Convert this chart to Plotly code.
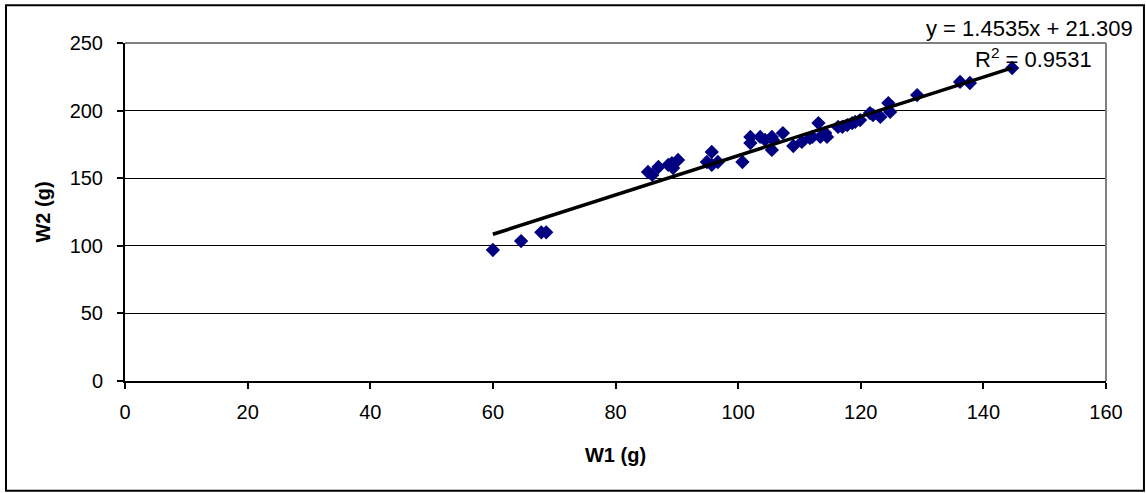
import plotly.graph_objects as go

w1 = [60.0, 64.6, 67.9, 68.7, 85.3, 86.0, 87.0, 88.6, 89.2, 90.2, 89.4, 94.9, 95.7, 95.7,
      96.7, 100.7, 102.0, 102.0, 103.6, 104.4, 105.5, 105.7, 105.5, 107.3, 109.0, 110.4,
      111.7, 112.1, 113.1, 113.4, 114.2, 114.5, 116.3, 117.0, 117.8, 118.6, 119.1, 119.9,
      121.5, 122.0, 123.2, 124.5, 124.8, 129.2, 136.2, 137.8, 144.7]
w2 = [96.9, 103.5, 110.0, 110.0, 154.6, 152.4, 158.3, 159.8, 161.2, 163.5, 157.5, 162.0,
      169.4, 159.8, 162.0, 162.0, 180.5, 176.0, 180.5, 178.3, 180.5, 178.3, 170.9, 183.4,
      173.8, 176.8, 179.7, 180.5, 190.8, 180.5, 183.4, 180.5, 187.9, 187.9, 189.3, 190.8,
      191.6, 193.0, 198.2, 196.7, 195.3, 205.6, 199.0, 211.5, 221.2, 220.4, 231.5]

slope = 1.4535
intercept = 21.309
r2 = 0.9531

x_ticks = [0, 20, 40, 60, 80, 100, 120, 140, 160]
y_ticks = [0, 50, 100, 150, 200, 250]

xmin, xmax = min(w1), max(w1)
fit_x = [xmin, xmax]
fit_y = [slope * v + intercept for v in fit_x]

font = "Liberation Sans, Arial, sans-serif"

fig = go.Figure()
fig.add_trace(go.Scatter(
    x=w1, y=w2, mode="markers",
    marker=dict(symbol="diamond", size=11, color="#000080", line=dict(width=0)),
    showlegend=False, cliponaxis=False))
fig.add_trace(go.Scatter(
    x=fit_x, y=fit_y, mode="lines",
    line=dict(color="black", width=3.5), showlegend=False))

fig.update_layout(
    width=1146, height=493,
    margin=dict(l=125, r=40, t=43, b=112),
    paper_bgcolor="white", plot_bgcolor="white",
    font=dict(family=font, size=20, color="black"),
    xaxis=dict(range=[0, 160], tickvals=x_ticks, showgrid=False, zeroline=False,
               showline=True, linecolor="black", linewidth=2,
               ticks="outside", ticklen=6, tickcolor="black", tickwidth=2,
               ticklabelstandoff=6,
               title=dict(text="<b>W1 (g)</b>", font=dict(size=20), standoff=26)),
    yaxis=dict(range=[0, 250], tickvals=y_ticks, showgrid=True, gridcolor="black",
               gridwidth=1, zeroline=False,
               showline=True, linecolor="black", linewidth=2,
               ticks="outside", ticklen=6, tickcolor="black", tickwidth=2,
               ticklabelstandoff=10,
               title=dict(text="<b>W2 (g)</b>", font=dict(size=20), standoff=14)),
    shapes=[
        dict(type="line", xref="paper", yref="paper", x0=0, x1=1, y0=1, y1=1,
             line=dict(color="#808080", width=2)),
        dict(type="line", xref="paper", yref="paper", x0=1, x1=1, y0=0, y1=1,
             line=dict(color="#808080", width=2)),
        dict(type="rect", xref="paper", yref="paper",
             x0=-0.1213, x1=1.0387, y0=-0.325, y1=1.112,
             line=dict(color="black", width=2)),
    ],
    annotations=[
        dict(text=f"y = {slope}x + {intercept}", x=0.9225, y=1.044,
             xref="paper", yref="paper", xanchor="center", yanchor="middle",
             showarrow=False, font=dict(size=22)),
        dict(text=f"R<sup>2</sup> = {r2}", x=0.9266, y=0.956,
             xref="paper", yref="paper", xanchor="center", yanchor="middle",
             showarrow=False, font=dict(size=22)),
    ],
)
fig.write_html("out.html", config={"displayModeBar": False},
               post_script="document.body.style.margin='0';")
